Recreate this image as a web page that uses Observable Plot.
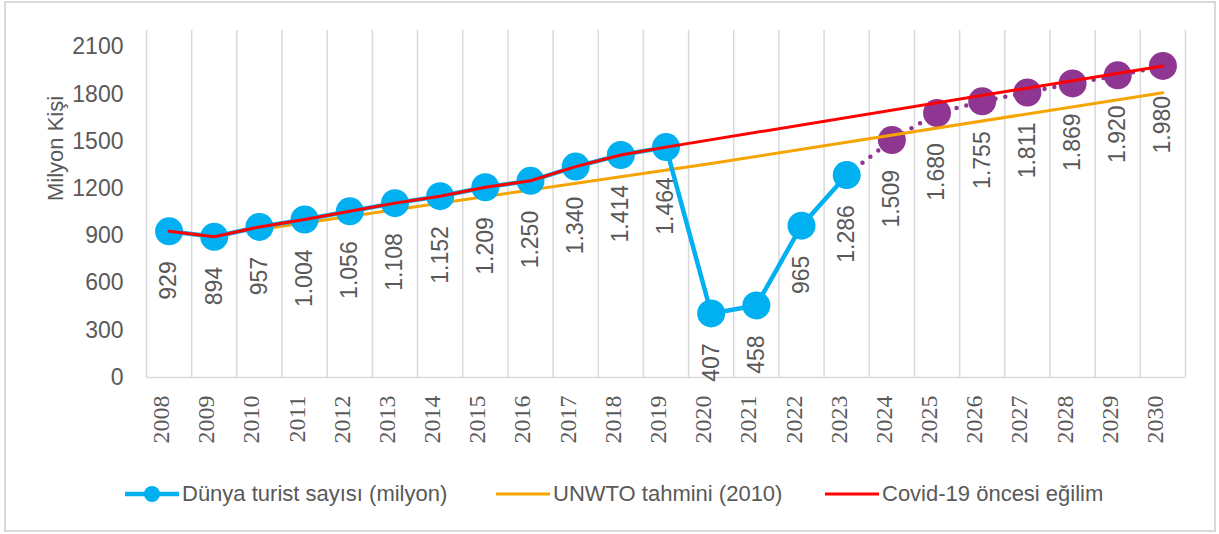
<!DOCTYPE html>
<html><head><meta charset="utf-8">
<script src="https://cdn.jsdelivr.net/npm/d3@7"></script>
<script src="https://cdn.jsdelivr.net/npm/@observablehq/plot@0.6"></script>
<style>
body{margin:0;background:#fff;}
#wrap{position:relative;width:1219px;height:534px;font-family:"Liberation Sans",Arial,sans-serif;overflow:hidden;}
#frame{position:absolute;left:4px;top:1px;width:1208px;height:527px;border:2px solid #d9d9d9;}
#chart{position:absolute;left:0;top:0;}
#legend{position:absolute;top:482px;left:0;width:1219px;height:24px;font-size:22px;color:#595959;}
.item{position:absolute;top:0;display:flex;align-items:center;height:24px;white-space:nowrap;}
.item svg{margin-right:3px;display:block;}
</style></head>
<body><div id="wrap"><div id="frame"></div><div id="chart"></div><div id="legend"></div></div>
<script>
// ---- data ----
const years = [2008, 2009, 2010, 2011, 2012, 2013, 2014, 2015, 2016, 2017, 2018, 2019, 2020, 2021, 2022, 2023];
const tourists = [929, 894, 957, 1004, 1056, 1108, 1152, 1209, 1250, 1340, 1414, 1464, 407, 458, 965, 1286];
const forecastYears = [2024, 2025, 2026, 2027, 2028, 2029, 2030];
const forecast = [1509, 1680, 1755, 1811, 1869, 1920, 1980];
const unwtoYears = [2010, 2020, 2030];
const unwto = [940, 1360, 1810];
const trendYears = [2008, 2009, 2010, 2011, 2012, 2013, 2014, 2015, 2016, 2017, 2018, 2019, 2030];
const trend = [929, 894, 957, 1004, 1056, 1108, 1152, 1209, 1250, 1340, 1414, 1464, 1980];
const yTicks = [0, 300, 600, 900, 1200, 1500, 1800, 2100];
const seriesNames = ["Dünya turist sayısı (milyon)", "UNWTO tahmini (2010)", "Covid-19 öncesi eğilim"];
const yTitle = "Milyon Kişi";

// ---- styles ----
const BLUE = "#00B0F0", PURPLE = "#8F3592", ORANGE = "#F5A400", RED = "#FF0000", GRID = "#d9d9d9", TXT = "#595959";
const SANS = "Liberation Sans, Arial, sans-serif";
const SERIF = "Liberation Serif, Times New Roman, serif";

const fmt = d3.formatLocale({decimal: ",", thousands: ".", grouping: [3], currency: ["", ""]}).format(",d");
const actual = years.map((year, i) => ({year, value: tourists[i]}));
const fc = forecastYears.map((year, i) => ({year, value: forecast[i]}));
const connector = [actual[actual.length - 1], ...fc];
const unwtoData = unwtoYears.map((year, i) => ({year, value: unwto[i]}));
const trendData = trendYears.map((year, i) => ({year, value: trend[i]}));
const allYears = years.concat(forecastYears);
const bounds = allYears.map(y => y - 0.5).concat([allYears[allYears.length - 1] + 0.5]);

const chart = Plot.plot({
  width: 1219, height: 470,
  marginLeft: 146, marginRight: 34, marginTop: 30, marginBottom: 93,
  x: {domain: [bounds[0], bounds[bounds.length - 1]], axis: null},
  y: {domain: [0, 2205], axis: null},
  style: {background: "transparent", fontFamily: SANS, overflow: "visible"},
  marks: [
    Plot.ruleX(bounds, {x: d => d, stroke: GRID, strokeWidth: 1.5}),
    Plot.ruleY([0], {stroke: GRID, strokeWidth: 1.5}),
    Plot.text(yTicks, {y: d => d, frameAnchor: "left", textAnchor: "end", dx: -23, text: d => String(d), fill: TXT, fontSize: 23}),
    Plot.text([yTitle], {frameAnchor: "left", rotate: -90, dx: -91, dy: -3, text: d => d, fill: TXT, fontSize: 22}),
    Plot.text(allYears, {x: d => d, frameAnchor: "bottom", rotate: -90, textAnchor: "end", dy: 18, text: d => String(d), fill: TXT, fontSize: 24, fontFamily: SERIF}),
    Plot.line(connector, {x: "year", y: "value", stroke: PURPLE, strokeWidth: 4.5, strokeDasharray: "0,10", strokeLinecap: "round"}),
    Plot.dot(fc, {x: "year", y: "value", r: 14, fill: PURPLE}),
    Plot.line(unwtoData, {x: "year", y: "value", stroke: ORANGE, strokeWidth: 3}),
    Plot.line(actual, {x: "year", y: "value", stroke: BLUE, strokeWidth: 4.5}),
    Plot.dot(actual, {x: "year", y: "value", r: 14, fill: BLUE}),
    Plot.line(trendData, {x: "year", y: "value", stroke: RED, strokeWidth: 3}),
    Plot.text(actual.concat(fc), {x: "year", y: "value", text: d => fmt(d.value), rotate: -90, textAnchor: "end", dy: 30, fill: TXT, fontSize: 23})
  ]
});
document.getElementById("chart").appendChild(chart);

// ---- legend ----
const legendColors = [BLUE, ORANGE, RED];
const legendLefts = [125, 496, 825];
const legend = document.getElementById("legend");
seriesNames.forEach((name, i) => {
  const item = document.createElement("div");
  item.className = "item";
  item.style.left = legendLefts[i] + "px";
  const sw = 54;
  const marker = i === 0 ? `<circle cx="${sw/2}" cy="12" r="8" fill="${legendColors[i]}"/>` : "";
  item.innerHTML = `<svg width="${sw}" height="24"><line x1="0" x2="${sw}" y1="12" y2="12" stroke="${legendColors[i]}" stroke-width="${i === 0 ? 4.5 : 3}" stroke-linecap="${i === 0 ? 'round' : 'butt'}"/>${marker}</svg><span>${name}</span>`;
  legend.appendChild(item);
});
</script>
</body></html>
